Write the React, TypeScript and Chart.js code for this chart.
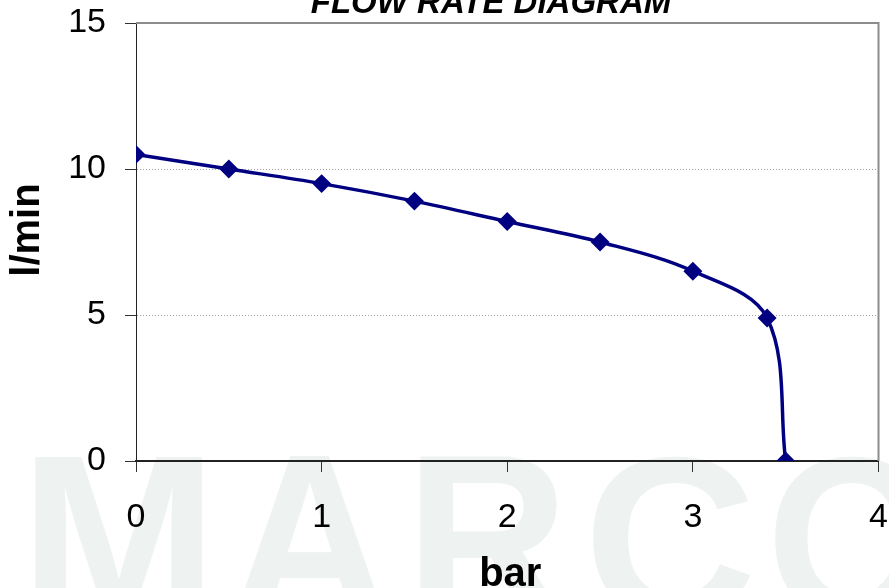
import React, { useEffect, useRef } from "react";
import { Chart, registerables } from "chart.js";

Chart.register(...registerables);

// ---- data ----
const pressureBar = [0, 0.5, 1, 1.5, 2, 2.5, 3, 3.4, 3.5];
const flowLpm = [10.5, 10.0, 9.5, 8.9, 8.2, 7.5, 6.5, 4.9, 0];
const xTicks = [0, 1, 2, 3, 4];
const yTicks = [0, 5, 10, 15];
const chartTitle = "FLOW RATE DIAGRAM";
const xTitle = "bar";
const yTitle = "l/min";
const watermarkLetters = ["M", "A", "R", "C", "O"];

const FONT = "'Liberation Sans', Arial, Helvetica, sans-serif";

const decorPlugin = {
  id: "decor",
  beforeDraw(chart: any) {
    const ctx = chart.ctx as CanvasRenderingContext2D;
    ctx.save();
    ctx.fillStyle = "#ffffff";
    ctx.fillRect(0, 0, chart.width, chart.height);
    ctx.fillStyle = "#eef2f1";
    ctx.font = `bold 200px ${FONT}`;
    ctx.textBaseline = "alphabetic";
    ctx.textAlign = "left";
    const boxes = [
      [35, 203],
      [233, 386],
      [420, 565],
      [593, 750],
      [775, 930],
    ];
    const top = 456;
    const h = 165;
    watermarkLetters.forEach((ch, i) => {
      const m = ctx.measureText(ch);
      const inkW = m.actualBoundingBoxLeft + m.actualBoundingBoxRight;
      const inkH = m.actualBoundingBoxAscent + m.actualBoundingBoxDescent;
      const [x0, x1] = boxes[i];
      ctx.save();
      ctx.translate(x0, top);
      ctx.scale((x1 - x0) / inkW, h / inkH);
      ctx.fillText(ch, m.actualBoundingBoxLeft, m.actualBoundingBoxAscent);
      ctx.restore();
    });
    ctx.restore();
  },
  beforeDatasetsDraw(chart: any) {
    const { ctx, chartArea } = chart;
    ctx.save();
    ctx.strokeStyle = "#8c8c8c";
    ctx.lineWidth = 2;
    ctx.beginPath();
    ctx.moveTo(chartArea.left, chartArea.top);
    ctx.lineTo(chartArea.right, chartArea.top);
    ctx.lineTo(chartArea.right, chartArea.bottom);
    ctx.stroke();
    ctx.restore();
  },
  afterDraw(chart: any) {
    const { ctx, chartArea } = chart;
    ctx.save();
    ctx.fillStyle = "#000000";
    ctx.textAlign = "center";
    ctx.textBaseline = "alphabetic";
    // chart title (partly cut at the top, as in the reference)
    ctx.font = `italic bold 33px ${FONT}`;
    ctx.fillText(chartTitle, 491, 13);
    // x title
    ctx.font = `bold 40px ${FONT}`;
    ctx.fillText(xTitle, (chartArea.left + chartArea.right) / 2 + 3, 586);
    // y title
    ctx.translate(39, 230);
    ctx.rotate(-Math.PI / 2);
    ctx.fillText(yTitle, 0, 0);
    ctx.restore();
  },
};

export default function App() {
  const canvasRef = useRef<HTMLCanvasElement | null>(null);

  useEffect(() => {
    document.body.style.margin = "0";
    document.body.style.overflow = "hidden";
    const canvas = canvasRef.current;
    if (!canvas) return;

    const chart = new Chart(canvas, {
      type: "line",
      data: {
        datasets: [
          {
            data: pressureBar.map((x, i) => ({ x, y: flowLpm[i] })),
            borderColor: "#000080",
            backgroundColor: "#000080",
            borderWidth: 3.5,
            pointStyle: "rectRot",
            pointRadius: 7,
            pointHoverRadius: 7,
            tension: 0.35,
            fill: false,
          },
        ],
      },
      options: {
        responsive: false,
        animation: false,
        devicePixelRatio: 1,
        layout: { padding: { top: 23, right: 10, left: 0, bottom: 0 } },
        plugins: {
          legend: { display: false },
          tooltip: { enabled: false },
          title: { display: false },
        },
        scales: {
          x: {
            type: "linear",
            min: xTicks[0],
            max: xTicks[xTicks.length - 1],
            afterBuildTicks: (scale: any) => {
              scale.ticks = xTicks.map((v) => ({ value: v }));
            },
            afterFit: (scale: any) => {
              scale.height = 127;
              scale.paddingLeft = 0;
              scale.paddingRight = 0;
            },
            ticks: {
              color: "#000",
              font: { family: FONT, size: 34 },
              padding: 25,
              maxRotation: 0,
              autoSkip: false,
            },
            grid: {
              drawOnChartArea: false,
              drawTicks: true,
              tickLength: 11,
              tickColor: "#333",
              tickWidth: 1,
            },
            border: { display: true, color: "#222", width: 2 },
          },
          y: {
            type: "linear",
            min: yTicks[0],
            max: yTicks[yTicks.length - 1],
            afterBuildTicks: (scale: any) => {
              scale.ticks = yTicks.map((v) => ({ value: v }));
            },
            afterFit: (scale: any) => {
              scale.width = 136;
              scale.paddingTop = 0;
              scale.paddingBottom = 0;
            },
            ticks: {
              color: "#000",
              font: { family: FONT, size: 34 },
              padding: 19,
              autoSkip: false,
            },
            grid: {
              drawOnChartArea: true,
              drawTicks: true,
              tickLength: 11,
              tickColor: "#333",
              tickWidth: 1,
              lineWidth: 1,
              color: (ctx: any) => {
                const v = ctx.tick ? ctx.tick.value : null;
                return v === yTicks[0] || v === yTicks[yTicks.length - 1]
                  ? "rgba(0,0,0,0)"
                  : "#a0a0a0";
              },
            },
            border: { display: true, color: "#222", width: 1, dash: [1, 2] },
          },
        },
      },
      plugins: [decorPlugin],
    } as any);

    return () => chart.destroy();
  }, []);

  return (
    <div style={{ width: 889, height: 588 }}>
      <canvas ref={canvasRef} width={889} height={588} />
    </div>
  );
}
